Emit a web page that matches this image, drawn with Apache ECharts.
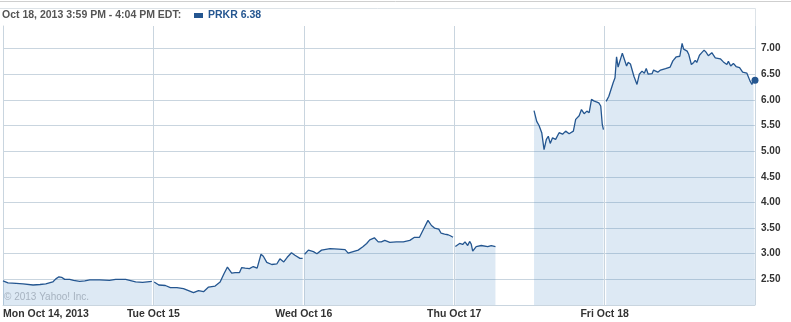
<!DOCTYPE html>
<html>
<head>
<meta charset="utf-8">
<title>PRKR</title>
<script src="https://cdn.jsdelivr.net/npm/echarts@6/dist/echarts.min.js"></script>
<style>
  html, body { margin: 0; padding: 0; background: #fff; }
  #chart { width: 791px; height: 322px; }
</style>
</head>
<body>
<div id="chart"></div>
<script>
// day labels on the time axis, one trading day = 390 minutes (9:30 - 16:00)
const dayLabels = ['Mon Oct 14, 2013', 'Tue Oct 15', 'Wed Oct 16', 'Thu Oct 17', 'Fri Oct 18']
const minutesPerDay = 390

// [minutes after the open, price] for each trading session
const mon = [[0, 2.47], [13, 2.43], [34, 2.42], [52, 2.41], [78, 2.39], [96, 2.40], [111, 2.41],
  [129, 2.45], [137, 2.51], [145, 2.55], [152, 2.54], [160, 2.50], [173, 2.50], [183, 2.48],
  [199, 2.46], [212, 2.47], [225, 2.49], [251, 2.49], [276, 2.48], [292, 2.50], [318, 2.50],
  [344, 2.45], [362, 2.44], [386, 2.46]]
const tue = [[2, 2.45], [14, 2.39], [31, 2.38], [44, 2.34], [61, 2.34], [78, 2.32], [91, 2.28],
  [104, 2.24], [117, 2.28], [130, 2.26], [143, 2.35], [160, 2.37], [173, 2.45], [183, 2.61],
  [192, 2.74], [203, 2.62], [212, 2.63], [223, 2.63], [229, 2.73], [238, 2.72], [249, 2.71],
  [259, 2.75], [269, 2.72], [279, 2.99], [285, 2.95], [294, 2.83], [307, 2.79], [320, 2.80],
  [328, 2.90], [338, 2.84], [347, 2.93], [358, 3.02], [367, 2.97], [380, 2.91], [387, 2.91]]
const wed = [[2, 2.99], [12, 3.07], [25, 3.04], [34, 3.00], [46, 3.07], [68, 3.10], [90, 3.09],
  [107, 3.08], [115, 3.01], [128, 3.04], [141, 3.07], [154, 3.14], [163, 3.20], [171, 3.27],
  [183, 3.31], [193, 3.23], [201, 3.23], [210, 3.26], [223, 3.22], [240, 3.23], [258, 3.23],
  [275, 3.26], [287, 3.32], [300, 3.32], [312, 3.50], [322, 3.65], [331, 3.55], [339, 3.50],
  [350, 3.48], [356, 3.40], [365, 3.38], [374, 3.37], [380, 3.35], [387, 3.32]]
const thuAm = [[3, 3.14], [14, 3.20], [22, 3.18], [28, 3.23], [35, 3.16], [40, 3.24], [44, 3.19],
  [48, 3.05], [57, 3.14], [70, 3.16], [87, 3.14], [96, 3.16], [107, 3.14]]
const thuPm = [[207, 5.79], [214, 5.58], [220, 5.50], [227, 5.36], [233, 5.03], [239, 5.23],
  [244, 5.29], [249, 5.15], [255, 5.26], [263, 5.23], [272, 5.36], [281, 5.33], [289, 5.39],
  [298, 5.34], [309, 5.39], [315, 5.62], [324, 5.69], [330, 5.81], [337, 5.73], [344, 5.78],
  [350, 5.75], [356, 6.01], [362, 5.98], [375, 5.94], [380, 5.88], [384, 5.52], [387, 5.42]]
const fri = [[4, 5.97], [11, 6.07], [16, 6.07], [22, 6.33], [27, 6.43], [31, 6.84], [35, 6.64],
  [40, 6.66], [46, 6.91], [50, 6.90], [57, 6.66], [61, 6.73], [67, 6.70], [76, 6.46], [84, 6.30],
  [90, 6.50], [97, 6.56], [103, 6.52], [108, 6.61], [113, 6.50], [123, 6.51], [127, 6.58],
  [138, 6.54], [145, 6.58], [158, 6.61], [170, 6.64], [177, 6.76], [186, 6.84], [195, 6.85],
  [201, 7.10], [205, 6.99], [214, 6.95], [218, 6.89], [225, 6.69], [231, 6.73], [235, 6.77],
  [239, 6.73], [246, 6.87], [252, 6.92], [258, 6.97], [263, 6.93], [269, 6.86], [278, 6.92],
  [287, 6.82], [300, 6.80], [308, 6.74], [317, 6.69], [321, 6.75], [327, 6.66], [334, 6.71],
  [341, 6.65], [350, 6.63], [358, 6.54], [369, 6.52], [377, 6.37], [382, 6.30], [386, 6.40],
  [390, 6.38]]

const sessions = [
  { day: 0, data: mon },
  { day: 1, data: tue },
  { day: 2, data: wed },
  { day: 3, data: thuAm },
  { day: 3, data: thuPm },
  { day: 4, data: fri },
]

const lineColor = '#245690'
const gridColor = '#c9d5df'
const lastPrice = fri[fri.length - 1][1]

const chart = echarts.init(document.getElementById('chart'))

const series = sessions.map((s, si) => {
  const pts = s.data.map((p) => [s.day * minutesPerDay + p[0], p[1]])
  const data = pts.map((p, i) => {
    // dot on the very last trade
    if (si === sessions.length - 1 && i === pts.length - 1) {
      return { value: p, symbol: 'circle', symbolSize: 7 }
    }
    return p
  })
  return {
    name: 'PRKR',
    type: 'line',
    data: data,
    color: lineColor,
    symbol: 'none',
    showSymbol: true,
    clip: false,
    lineStyle: { color: lineColor, width: 1.3 },
    itemStyle: { color: lineColor },
    areaStyle: { color: 'rgba(60, 130, 190, 0.25)', origin: 'start' },
    emphasis: { disabled: true },
  }
})

const option = {
  animation: false,
  backgroundColor: '#fff',
  title: [
    {
      text: 'Oct 18, 2013 3:59 PM - 4:04 PM EDT:',
      left: 2,
      top: 10,
      padding: 0,
      textStyle: { color: '#555', fontFamily: 'Liberation Sans', fontSize: 10.5, fontWeight: 'bold' },
    },
    {
      text: '© 2013 Yahoo! Inc.',
      left: 4,
      top: 292,
      padding: 0,
      textStyle: { color: 'rgba(130, 142, 156, 0.6)', fontFamily: 'Liberation Sans', fontSize: 10, fontWeight: 'normal' },
    },
  ],
  legend: {
    data: ['PRKR'],
    left: 194,
    top: 10,
    padding: 0,
    icon: 'rect',
    itemWidth: 9,
    itemHeight: 5,
    formatter: (name) => name + ' ' + lastPrice.toFixed(2),
    textStyle: { color: lineColor, fontFamily: 'Liberation Sans', fontSize: 10.5, fontWeight: 'bold' },
  },
  graphic: [
    { type: 'line', shape: { x1: 0, y1: 1.5, x2: 791, y2: 1.5 }, style: { stroke: '#cfcfcf', lineWidth: 1 } },
    { type: 'line', shape: { x1: 0, y1: 8.5, x2: 755.5, y2: 8.5 }, style: { stroke: '#dde3e8', lineWidth: 1 } },
    { type: 'line', shape: { x1: 755.5, y1: 8.5, x2: 755.5, y2: 26 }, style: { stroke: '#dde3e8', lineWidth: 1 } },
  ],
  grid: { left: 0, right: 36, top: 26, bottom: 17, containLabel: false },
  xAxis: {
    type: 'value',
    min: 0,
    max: minutesPerDay * dayLabels.length,
    interval: minutesPerDay,
    axisLine: { show: true, lineStyle: { color: gridColor } },
    axisTick: { show: false },
    axisLabel: {
      margin: 4,
      color: '#333',
      fontFamily: 'Liberation Sans',
      fontSize: 10.5,
      fontWeight: 'bold',
      alignMinLabel: 'left',
      formatter: (v) => dayLabels[Math.round(v / minutesPerDay)] || '',
    },
    splitLine: { show: true, showMinLine: false, lineStyle: { color: gridColor, width: 1 } },
  },
  yAxis: {
    type: 'value',
    position: 'right',
    min: 2,
    max: 7.44,
    interval: 0.5,
    axisLine: { show: true, lineStyle: { color: gridColor } },
    axisTick: { show: false },
    axisLabel: {
      margin: 6,
      color: '#333',
      fontFamily: 'Liberation Sans',
      fontSize: 10,
      fontWeight: 'bold',
      showMinLabel: false,
      showMaxLabel: false,
      formatter: (v) => v.toFixed(2),
    },
    splitLine: { show: true, showMaxLine: false, lineStyle: { color: gridColor, width: 1 } },
  },
  series: series,
}

chart.setOption(option)
</script>
</body>
</html>
